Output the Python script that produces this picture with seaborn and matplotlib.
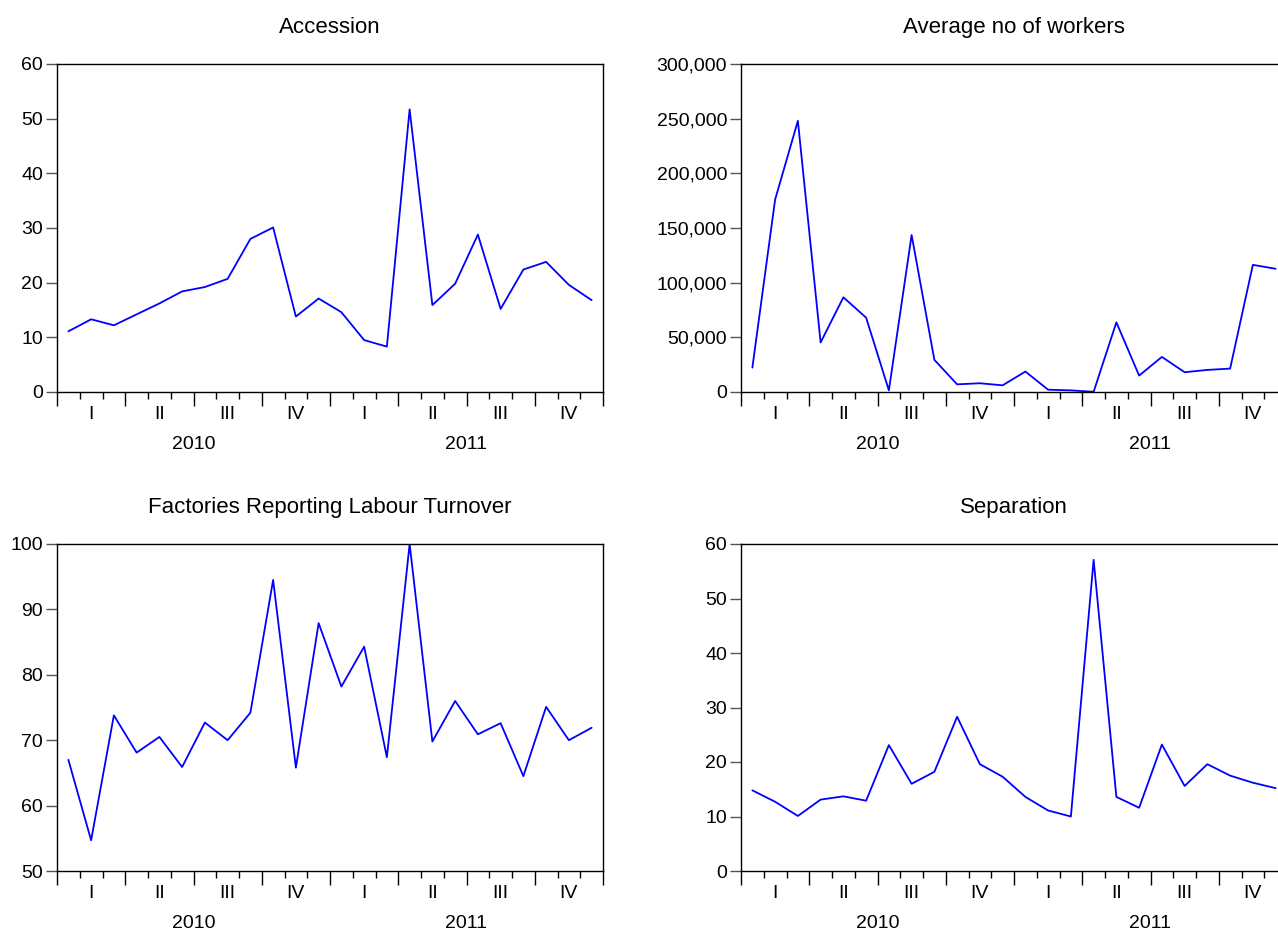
import matplotlib
matplotlib.use("Agg")
import matplotlib.pyplot as plt
import matplotlib.ticker as mticker
import seaborn as sns
import pandas as pd
import numpy as np

sns.set_style("ticks")
plt.rcParams['font.family'] = ['Liberation Sans', 'DejaVu Sans']
plt.rcParams['text.color'] = 'black'
plt.rcParams['xtick.color'] = 'black'
plt.rcParams['ytick.color'] = 'black'

# monthly observations, Jan 2010 - Dec 2011
months = pd.period_range("2010-01", "2011-12", freq="M").strftime("%Y-%m").tolist()

accession = [11.1, 13.3, 12.2, 14.2, 16.2, 18.4, 19.2, 20.7, 28.0, 30.1, 13.8, 17.1,
             14.6, 9.5, 8.3, 51.7, 15.9, 19.8, 28.8, 15.2, 22.4, 23.8, 19.6, 16.8]
workers = [22300, 176000, 248000, 45300, 86600, 68000, 1500, 143600, 29400, 7000, 8000, 6100,
           18700, 2100, 1500, 200, 63700, 15000, 32100, 18100, 20200, 21400, 116300, 112700]
factories = [67.0, 54.7, 73.8, 68.1, 70.5, 65.9, 72.7, 70.0, 74.2, 94.5, 65.8, 87.9,
             78.2, 84.3, 67.4, 100.0, 69.8, 76.0, 70.9, 72.6, 64.5, 75.1, 70.0, 71.9]
separation = [14.8, 12.7, 10.1, 13.1, 13.7, 12.9, 23.1, 16.0, 18.2, 28.3, 19.6, 17.3,
              13.6, 11.1, 10.0, 57.1, 13.6, 11.6, 23.2, 15.6, 19.6, 17.5, 16.2, 15.2]

quarter_labels = ["I", "II", "III", "IV"] * 2
year_labels = ["2010", "2011"]

titles = ["Accession", "Average no of workers",
          "Factories Reporting Labour Turnover", "Separation"]
series = [accession, workers, factories, separation]
ylims = [(0, 60), (0, 300000), (50, 100), (0, 60)]
ysteps = [10, 50000, 10, 10]

W, H = 1278, 930
fig = plt.figure(figsize=(W / 100, H / 100), dpi=100)

# panel boxes in pixels: left, top, right, bottom
boxes = [(57, 64, 603, 392), (741, 64, 1287, 392),
         (57, 544, 603, 871), (741, 544, 1287, 871)]

for title, vals, ylim, step, (l, t, r, b) in zip(titles, series, ylims, ysteps, boxes):
    ax = fig.add_axes([l / W, 1 - b / H, (r - l) / W, (b - t) / H])
    df = pd.DataFrame({"month": months, "value": vals})
    df["x"] = np.arange(len(df)) + 0.5
    sns.lineplot(data=df, x="x", y="value", ax=ax, color="#0000FF", linewidth=1.3)

    ax.set_xlim(0, len(months))
    ax.set_ylim(*ylim)
    ax.yaxis.set_major_locator(mticker.MultipleLocator(step))
    if ylim[1] > 1000:
        ax.yaxis.set_major_formatter(mticker.StrMethodFormatter("{x:,.0f}"))
    ax.set_xlabel("")
    ax.set_ylabel("")
    ax.set_title(title, fontsize=16, pad=22)

    # quarter boundaries long ticks, month boundaries short ticks
    ax.set_xticks(np.arange(0, 25, 3))
    ax.set_xticks(np.arange(0, 25, 1), minor=True)
    ax.tick_params(axis="x", which="major", length=10, width=1, labelbottom=False)
    ax.tick_params(axis="x", which="minor", length=5, width=1)
    ax.tick_params(axis="y", length=8, width=1, labelsize=14, pad=2, color="#555555")

    # quarter and year labels
    qax = ax.secondary_xaxis("bottom")
    qax.set_xticks(np.arange(1.5, 24, 3), quarter_labels)
    qax.tick_params(length=0, labelsize=14, pad=10)
    qax.spines["bottom"].set_visible(False)
    yax = ax.secondary_xaxis("bottom")
    yax.set_xticks([6, 18], year_labels)
    yax.tick_params(length=0, labelsize=14, pad=32)
    yax.spines["bottom"].set_visible(False)

    for sp in ax.spines.values():
        sp.set_visible(True)
        sp.set_color("black")
        sp.set_linewidth(1.0)

fig.savefig("out.png", dpi=100)
